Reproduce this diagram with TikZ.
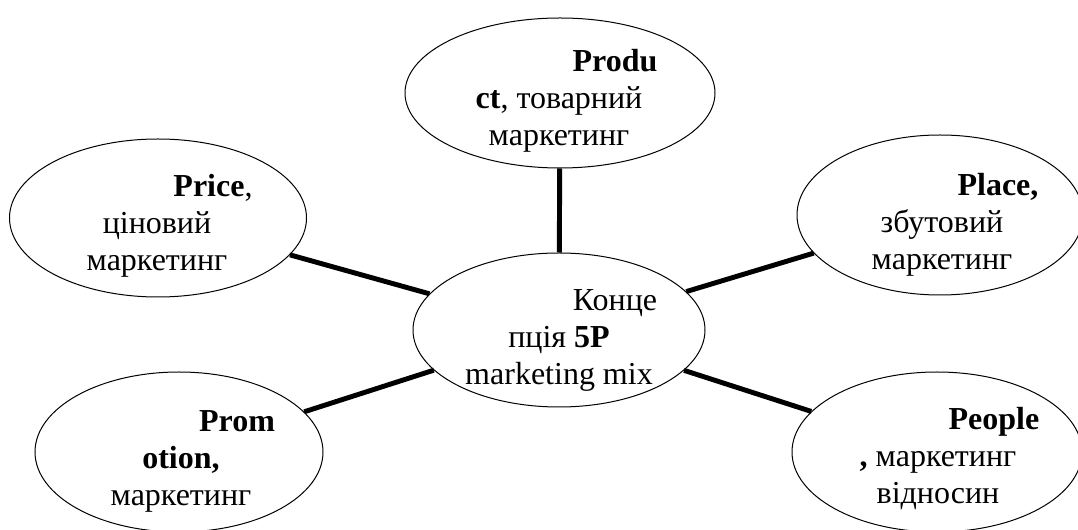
\documentclass[tikz,border=0pt]{standalone}
\usepackage{fontspec}
\setmainfont{Liberation Serif}
\usetikzlibrary{shapes.geometric}
\tikzset{
  oval/.style={draw, ellipse, line width=0.75pt, inner sep=0pt},
  blurb/.style={align=center, inner sep=0pt, font=\fontsize{24}{28}\selectfont},
  spoke/.style={line width=3.7pt}
}
\newcommand{\lead}{\hspace*{84pt}}
\begin{document}
\begin{tikzpicture}[x=0.75pt,y=-0.75pt]
\useasboundingbox (0,0) rectangle (1078,530);
\node[oval, minimum width=219pt, minimum height=115.5pt] (hub) at (559,330) {};
\node[oval, minimum width=232.5pt, minimum height=112.5pt] (product) at (560,93) {};
\node[oval, minimum width=222.75pt, minimum height=118.5pt] (price) at (158,218) {};
\node[oval, minimum width=214.5pt, minimum height=120pt] (place) at (940,215) {};
\node[oval, minimum width=216pt, minimum height=120pt] (promotion) at (179,452) {};
\node[oval, minimum width=217.5pt, minimum height=120pt] (people) at (937,452) {};
\draw[spoke] (hub) -- (product);
\draw[spoke] (hub) -- (price);
\draw[spoke] (hub) -- (place);
\draw[spoke] (hub) -- (promotion);
\draw[spoke] (hub) -- (people);
\node[blurb] (hubtext) at (559,340) {\strut\lead Конце\\ пція \textbf{5P}\\ marketing mix\strut};
\node[blurb] (producttext) at (559,101) {\strut\lead\textbf{Produ}\\ \textbf{ct}, товарний\\ маркетинг\strut};
\node[blurb] (pricetext) at (157,226) {\strut\lead\textbf{Price},\\ ціновий\\ маркетинг\strut};
\node[blurb] (placetext) at (942,225) {\strut\lead\textbf{Place,}\\ збутовий\\ маркетинг\strut};
\node[blurb] (promotiontext) at (181,461) {\strut\lead\textbf{Prom}\\ \textbf{otion,}\\ маркетинг\strut};
\node[blurb] (peopletext) at (938,459) {\strut\lead\textbf{People}\\ \textbf{,} маркетинг\\ відносин\strut};
\end{tikzpicture}
\end{document}
